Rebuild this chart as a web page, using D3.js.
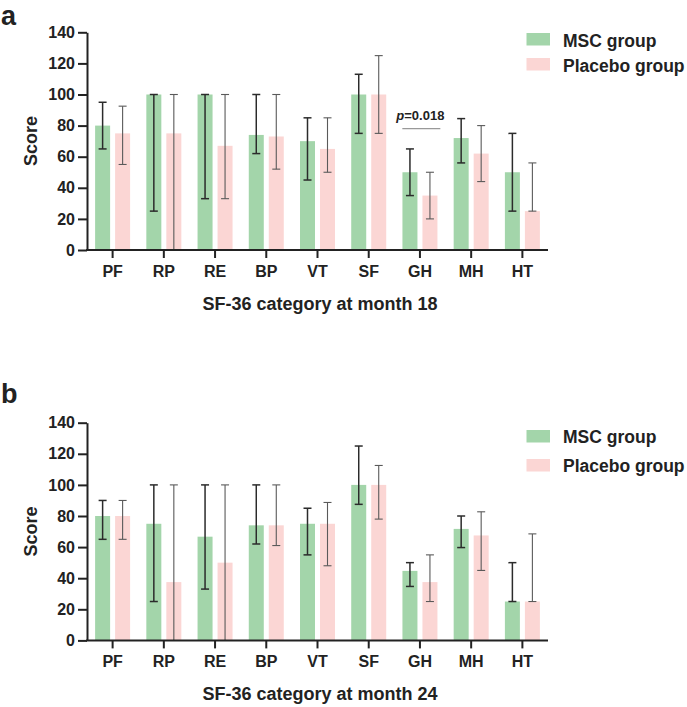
<!DOCTYPE html>
<html>
<head>
<meta charset="utf-8">
<script src="https://cdn.jsdelivr.net/npm/d3@7"></script>
<style>
  html, body { margin: 0; padding: 0; background: #fff; }
  svg { display: block; }
  text { font-family: "Liberation Sans", Arial, Helvetica, sans-serif; fill: #222; font-weight: bold; }
</style>
</head>
<body>
<svg id="chart" width="687" height="707"></svg>
<script>
// ---- Data ----
const categories = ["PF", "RP", "RE", "BP", "VT", "SF", "GH", "MH", "HT"];
const groups = ["MSC group", "Placebo group"];
const yTicks = [0, 20, 40, 60, 80, 100, 120, 140];

// Month 18
const msc18    = [80, 100, 100, 74, 70, 100, 50, 72, 50];
const msc18Lo  = [65, 25, 33, 62, 45, 75, 35, 56, 25];
const msc18Hi  = [95, 100, 100, 100, 85, 113, 65, 84.5, 75];
const pla18    = [75, 75, 67, 73, 65, 100, 35, 62, 25];
const pla18Lo  = [55, 0, 33, 52, 50, 75, 20, 44, 25];
const pla18Hi  = [92.5, 100, 100, 100, 85, 125, 50, 80, 56];

// Month 24
const msc24    = [80, 75, 66.7, 74, 75, 100, 44.7, 71.7, 25];
const msc24Lo  = [65, 25, 33, 62, 55, 87.5, 34.7, 59.7, 25];
const msc24Hi  = [90, 100, 100, 100, 85, 125, 50, 80, 50];
const pla24    = [80, 37.5, 50, 74, 75, 100, 37.5, 67.5, 25];
const pla24Lo  = [65, 0, 0, 61, 48, 78, 25, 45, 25];
const pla24Hi  = [90, 100, 100, 100, 88.7, 112.5, 55, 82.7, 68.5];

const panels = [
  { letter: "a", title: "SF-36 category at month 18", top: 0, legendGap: 25,
    series: [[msc18, msc18Lo, msc18Hi], [pla18, pla18Lo, pla18Hi]], pval: "=0.018", pCat: "GH", pY: 78 },
  { letter: "b", title: "SF-36 category at month 24", top: 390.4, legendGap: 29,
    series: [[msc24, msc24Lo, msc24Hi], [pla24, pla24Lo, pla24Hi]] }
];

const colors = ["#a3d5aa", "#fbd6d4"];
const errColors = ["#2b2b2b", "#5a5a5a"];
const errWidths = [1.5, 1.1];

const svg = d3.select("#chart");
const left = 87, right = 548;

panels.forEach(p => {
  const g = svg.append("g").attr("transform", `translate(0,${p.top})`);
  const x0 = d3.scaleBand().domain(categories).range([left, right]).padding(0);
  const bw = x0.bandwidth();
  const x1 = d3.scaleBand().domain(groups).range([bw / 2 - 17.5, bw / 2 + 17.5]).paddingInner(0.25);
  const y = d3.scaleLinear().domain([0, 140]).range([250, 32.3]);

  // Bars
  groups.forEach((grp, gi) => {
    const [vals, lo, hi] = p.series[gi];
    const gg = g.append("g");
    gg.selectAll("rect").data(categories).join("rect")
      .attr("x", (c) => x0(c) + x1(grp))
      .attr("width", x1.bandwidth())
      .attr("y", (c, i) => y(vals[i]))
      .attr("height", (c, i) => y(0) - y(vals[i]))
      .attr("fill", colors[gi]);
  });

  // Error bars
  groups.forEach((grp, gi) => {
    const [vals, lo, hi] = p.series[gi];
    const eg = g.append("g").attr("stroke", errColors[gi]).attr("stroke-width", errWidths[gi]).attr("fill", "none");
    categories.forEach((c, i) => {
      const cx = x0(c) + x1(grp) + x1.bandwidth() / 2;
      eg.append("line").attr("x1", cx).attr("x2", cx).attr("y1", y(lo[i])).attr("y2", y(hi[i]));
      eg.append("line").attr("x1", cx - 4).attr("x2", cx + 4).attr("y1", y(hi[i])).attr("y2", y(hi[i]));
      if (lo[i] > 0) {
        eg.append("line").attr("x1", cx - 4).attr("x2", cx + 4).attr("y1", y(lo[i])).attr("y2", y(lo[i]));
      }
    });
  });

  // Axes
  const yAxis = d3.axisLeft(y).tickValues(yTicks).tickSize(9).tickPadding(3).tickSizeOuter(0);
  const ya = g.append("g").attr("transform", `translate(${left},0)`).call(yAxis);
  ya.selectAll("text").style("font-size", "16px").attr("fill", "#222");
  ya.selectAll("line, path").attr("stroke", "#222").attr("stroke-width", 2);

  const xAxis = d3.axisBottom(x0).tickSize(8).tickPadding(7.5).tickSizeOuter(0);
  const xa = g.append("g").attr("transform", `translate(0,${y(0)})`).call(xAxis);
  xa.selectAll("text").style("font-size", "16px").attr("fill", "#222");
  xa.selectAll("line, path").attr("stroke", "#222").attr("stroke-width", 2);
  xa.select("path").attr("d", `M${left - 1},0H${right}`);

  // Axis titles
  g.append("text")
    .attr("transform", "translate(36.5,141) rotate(-90)")
    .attr("text-anchor", "middle")
    .style("font-size", "18px")
    .text("Score");
  g.append("text")
    .attr("x", 320).attr("y", 310)
    .attr("text-anchor", "middle")
    .style("font-size", "18px")
    .text(p.title);

  // Panel letter
  g.append("text").attr("x", 1).attr("y", p.top === 0 ? 25 : 12.6)
    .style("font-size", "27px").text(p.letter);

  // Legend
  const lg = g.append("g");
  const legTop = p.top === 0 ? 33 : 39.6;
  groups.forEach((grp, gi) => {
    const yy = legTop + gi * p.legendGap;
    lg.append("rect").attr("x", 526.5).attr("y", yy).attr("width", 23.5).attr("height", 12.5).attr("fill", colors[gi]);
    lg.append("text").attr("x", 563).attr("y", yy + 13.5).style("font-size", "17.5px").text(grp);
  });

  // p-value annotation
  if (p.pval) {
    const gx = x0(p.pCat);
    g.append("line")
      .attr("x1", gx + 8).attr("x2", gx + 46)
      .attr("y1", y(p.pY)).attr("y2", y(p.pY))
      .attr("stroke", "#999").attr("stroke-width", 1.2);
    const t = g.append("text").attr("x", gx + 2).attr("y", y(p.pY) - 9).style("font-size", "13px");
    t.append("tspan").style("font-style", "italic").text("p");
    t.append("tspan").text(p.pval);
  }
});
</script>
</body>
</html>
